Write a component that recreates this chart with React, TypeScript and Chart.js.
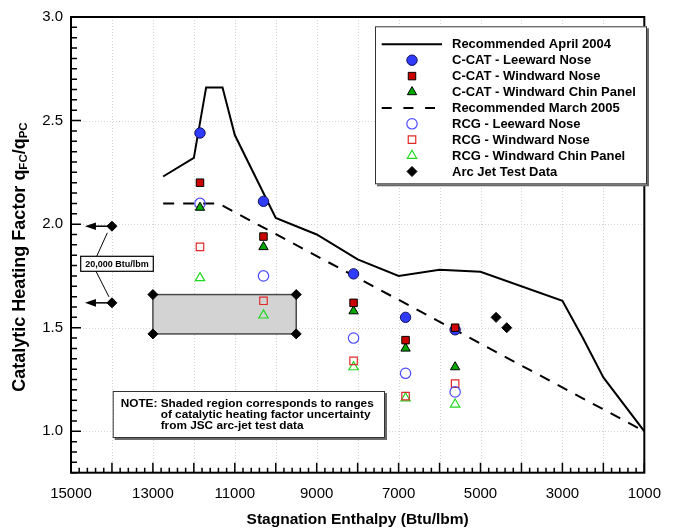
import React, { useEffect, useRef } from 'react';
import { Chart, registerables } from 'chart.js';

Chart.register(...registerables);

// ---- data ----
const enthalpyTicks = [15000, 14000, 13000, 12000, 11000, 10000, 9000, 8000, 7000, 6000, 5000, 4000, 3000, 2000, 1000];
const factorTicks = [1.0, 1.5, 2.0, 2.5, 3.0];

const april2004Enthalpy = [12750, 12000, 11700, 11300, 11000, 10000, 9000, 8000, 7000, 6000, 5000, 3000, 2500, 2000, 1000];
const april2004Factor = [2.23, 2.32, 2.66, 2.66, 2.43, 2.03, 1.95, 1.83, 1.75, 1.78, 1.77, 1.63, 1.45, 1.26, 1.0];

const march2005Enthalpy = [12750, 11400, 1000];
const march2005Factor = [2.1, 2.1, 1.0];

const testEnthalpy = [11850, 10300, 8100, 6830, 5620];
const ccatLeewardNose = [2.44, 2.11, 1.76, 1.55, 1.49];
const ccatWindwardNose = [2.2, 1.94, 1.62, 1.44, 1.5];
const ccatWindwardChin = [2.08, 1.89, 1.58, 1.4, 1.31];
const rcgLeewardNose = [2.1, 1.75, 1.45, 1.28, 1.19];
const rcgWindwardNose = [1.89, 1.63, 1.34, 1.17, 1.23];
const rcgWindwardChin = [1.74, 1.56, 1.31, 1.16, 1.13];

const arcJetEnthalpy = [4620, 4360];
const arcJetFactor = [1.55, 1.5];

// uncertainty band from JSC arc-jet data
const bandEnthalpy = [13000, 9500];
const bandFactor = [1.47, 1.66];

// 20,000 Btu/lbm reference points (off scale, arrows point left)
const refEnthalpy = 14000;
const refArrowTip = 14660;
const refFactor = [1.99, 1.62];

const noteLines = [
  ['NOTE: ', 'Shaded region corresponds to ranges'],
  ['', 'of catalytic heating factor uncertainty'],
  ['', 'from JSC arc-jet test data'],
];

const FONT = "Arial, 'Liberation Sans', Helvetica, sans-serif";

const pts = (xs: number[], ys: number[]) => xs.map((x, i) => ({ x, y: ys[i] }));

type Marker = { style: string; fill: string; stroke: string; r: number; width: number };

const mCcatLee: Marker = { style: 'circle', fill: '#2f3cff', stroke: '#10105a', r: 5.2, width: 1 };
const mCcatWin: Marker = { style: 'rect', fill: '#cc0000', stroke: '#000000', r: 5.3, width: 1 };
const mCcatChin: Marker = { style: 'triangle', fill: '#00a800', stroke: '#000000', r: 5.4, width: 1 };
const mRcgLee: Marker = { style: 'circle', fill: 'rgba(0,0,0,0)', stroke: '#4b4bff', r: 5.2, width: 1.2 };
const mRcgWin: Marker = { style: 'rect', fill: 'rgba(0,0,0,0)', stroke: '#e02a2a', r: 5.3, width: 1.2 };
const mRcgChin: Marker = { style: 'triangle', fill: 'rgba(0,0,0,0)', stroke: '#1fd81f', r: 5.4, width: 1.2 };
const mArc: Marker = { style: 'rectRot', fill: '#000000', stroke: '#000000', r: 5, width: 1 };

const scatterSet = (label: string, data: { x: number; y: number }[], m: Marker, order: number) => ({
  type: 'scatter' as const,
  label,
  data,
  order,
  showLine: false,
  pointStyle: m.style,
  pointRadius: m.r,
  pointBackgroundColor: m.fill,
  pointBorderColor: m.stroke,
  pointBorderWidth: m.width,
});

type LegendRow = { label: string; line?: 'solid' | 'dash'; marker?: Marker };
const legendRows: LegendRow[] = [
  { label: 'Recommended April 2004', line: 'solid' },
  { label: 'C-CAT - Leeward Nose', marker: mCcatLee },
  { label: 'C-CAT - Windward Nose', marker: mCcatWin },
  { label: 'C-CAT - Windward Chin Panel', marker: mCcatChin },
  { label: 'Recommended March 2005', line: 'dash' },
  { label: 'RCG - Leeward Nose', marker: mRcgLee },
  { label: 'RCG - Windward Nose', marker: mRcgWin },
  { label: 'RCG - Windward Chin Panel', marker: mRcgChin },
  { label: 'Arc Jet Test Data', marker: mArc },
];

function drawMarker(ctx: CanvasRenderingContext2D, m: Marker, x: number, y: number) {
  ctx.save();
  ctx.beginPath();
  const r = m.r;
  if (m.style === 'circle') {
    ctx.arc(x, y, r, 0, Math.PI * 2);
  } else if (m.style === 'rect') {
    const s = Math.SQRT1_2 * r;
    ctx.rect(x - s, y - s, 2 * s, 2 * s);
  } else if (m.style === 'triangle') {
    for (let k = 0; k < 3; k++) {
      const a = (k * 2 * Math.PI) / 3;
      const px = x + Math.sin(a) * r;
      const py = y - Math.cos(a) * r;
      if (k === 0) ctx.moveTo(px, py);
      else ctx.lineTo(px, py);
    }
    ctx.closePath();
  } else {
    ctx.moveTo(x, y - r);
    ctx.lineTo(x + r, y);
    ctx.lineTo(x, y + r);
    ctx.lineTo(x - r, y);
    ctx.closePath();
  }
  ctx.fillStyle = m.fill;
  ctx.fill();
  ctx.lineWidth = m.width;
  ctx.strokeStyle = m.stroke;
  ctx.stroke();
  ctx.restore();
}

const decorations = {
  id: 'decorations',
  beforeDatasetsDraw(chart: any) {
    const { ctx, chartArea: a, scales } = chart;
    const xs = scales.x;
    const ys = scales.y;
    ctx.save();
    // dotted grid
    ctx.strokeStyle = '#d4d4d4';
    ctx.lineWidth = 1;
    ctx.setLineDash([1, 2]);
    enthalpyTicks.forEach((v) => {
      const px = Math.round(xs.getPixelForValue(v)) + 0.5;
      ctx.beginPath();
      ctx.moveTo(px, a.top);
      ctx.lineTo(px, a.bottom);
      ctx.stroke();
    });
    [1.0, 1.5, 2.0, 2.5].forEach((v) => {
      const py = Math.round(ys.getPixelForValue(v)) + 0.5;
      ctx.beginPath();
      ctx.moveTo(a.left, py);
      ctx.lineTo(a.right, py);
      ctx.stroke();
    });
    ctx.setLineDash([]);

    // shaded uncertainty band
    const bx0 = xs.getPixelForValue(bandEnthalpy[0]);
    const bx1 = xs.getPixelForValue(bandEnthalpy[1]);
    const by0 = ys.getPixelForValue(bandFactor[1]);
    const by1 = ys.getPixelForValue(bandFactor[0]);
    ctx.fillStyle = '#d3d3d3';
    ctx.fillRect(bx0, by0, bx1 - bx0, by1 - by0);
    ctx.strokeStyle = '#4a4a4a';
    ctx.lineWidth = 1.5;
    ctx.strokeRect(bx0, by0, bx1 - bx0, by1 - by0);

    // arrows to the off-scale reference points
    ctx.fillStyle = '#000';
    ctx.strokeStyle = '#000';
    refFactor.forEach((f) => {
      const x0 = xs.getPixelForValue(refEnthalpy);
      const xt = xs.getPixelForValue(refArrowTip);
      const y = ys.getPixelForValue(f);
      ctx.lineWidth = 1.5;
      ctx.beginPath();
      ctx.moveTo(x0, y);
      ctx.lineTo(xt + 10, y);
      ctx.stroke();
      ctx.beginPath();
      ctx.moveTo(xt, y);
      ctx.lineTo(xt + 11, y - 3.8);
      ctx.lineTo(xt + 11, y + 3.8);
      ctx.closePath();
      ctx.fill();
    });

    // label box with connectors
    const dTop = { x: xs.getPixelForValue(refEnthalpy), y: ys.getPixelForValue(refFactor[0]) };
    const dBot = { x: xs.getPixelForValue(refEnthalpy), y: ys.getPixelForValue(refFactor[1]) };
    const lbx = a.left + 9.7;
    const lby = a.top + 239.3;
    const lbw = 72.6;
    const lbh = 15;
    ctx.lineWidth = 1;
    ctx.beginPath();
    ctx.moveTo(lbx + 16, lby);
    ctx.lineTo(dTop.x - 4.6, dTop.y + 6.6);
    ctx.moveTo(lbx + 15.3, lby + lbh);
    ctx.lineTo(dBot.x - 3, dBot.y - 6);
    ctx.stroke();
    ctx.fillStyle = '#fff';
    ctx.fillRect(lbx, lby, lbw, lbh);
    ctx.strokeStyle = '#000';
    ctx.lineWidth = 1.2;
    ctx.strokeRect(lbx, lby, lbw, lbh);
    ctx.fillStyle = '#000';
    ctx.font = `bold 9px ${FONT}`;
    ctx.textAlign = 'center';
    ctx.textBaseline = 'middle';
    ctx.fillText('20,000 Btu/lbm', lbx + lbw / 2, lby + lbh / 2 + 0.5);
    ctx.restore();
  },
  afterDatasetsDraw(chart: any) {
    const { ctx, chartArea: a, scales } = chart;
    const xs = scales.x;
    const ys = scales.y;
    ctx.save();

    // frame
    ctx.strokeStyle = '#000';
    ctx.lineWidth = 2;
    ctx.strokeRect(a.left, a.top, a.right - a.left, a.bottom - a.top);

    // inward ticks: x every 200 (major 1000), y every 0.05 (major 0.5)
    ctx.lineWidth = 1.5;
    ctx.beginPath();
    for (let v = 1000; v <= 15000; v += 200) {
      const px = xs.getPixelForValue(v);
      const len = v % 1000 === 0 ? 10 : 5;
      ctx.moveTo(px, a.bottom);
      ctx.lineTo(px, a.bottom - len);
    }
    for (let k = 16; k <= 60; k++) {
      const v = k * 0.05;
      const py = ys.getPixelForValue(v);
      const len = k % 10 === 0 ? 10 : 6;
      ctx.moveTo(a.left, py);
      ctx.lineTo(a.left + len, py);
    }
    ctx.stroke();

    // legend
    const lx = a.left + 304;
    const ly = a.top + 9.3;
    const lw = 272;
    const lh = 158;
    ctx.fillStyle = '#6a6a6a';
    ctx.fillRect(lx + 2, ly + 2, lw, lh);
    ctx.fillStyle = '#fff';
    ctx.fillRect(lx, ly, lw, lh);
    ctx.strokeStyle = '#333';
    ctx.lineWidth = 1;
    ctx.strokeRect(lx + 0.5, ly + 0.5, lw - 1, lh - 1);
    ctx.font = `bold 13px ${FONT}`;
    ctx.textAlign = 'left';
    ctx.textBaseline = 'middle';
    legendRows.forEach((row, i) => {
      const y = ly + 18 + i * 15.9;
      if (row.line) {
        ctx.strokeStyle = '#000';
        ctx.lineWidth = 2;
        ctx.setLineDash(row.line === 'dash' ? [10, 11.7] : []);
        ctx.beginPath();
        ctx.moveTo(lx + 6.7, y);
        ctx.lineTo(lx + (row.line === 'dash' ? 60 : 67), y);
        ctx.stroke();
        ctx.setLineDash([]);
      } else if (row.marker) {
        drawMarker(ctx, row.marker, lx + 37, y);
      }
      ctx.fillStyle = '#000';
      ctx.fillText(row.label, lx + 77, y + 0.5);
    });

    // note box
    const nx = a.left + 41.7;
    const ny = a.top + 374;
    const nw = 272.3;
    const nh = 47;
    ctx.fillStyle = '#6a6a6a';
    ctx.fillRect(nx + 2, ny + 2, nw, nh);
    ctx.fillStyle = '#fff';
    ctx.fillRect(nx, ny, nw, nh);
    ctx.strokeStyle = '#333';
    ctx.lineWidth = 1;
    ctx.strokeRect(nx + 0.5, ny + 0.5, nw - 1, nh - 1);
    ctx.font = `bold 11.8px ${FONT}`;
    ctx.fillStyle = '#000';
    const indent = ctx.measureText('NOTE: ').width;
    noteLines.forEach(([head, body], i) => {
      const y = ny + 12.7 + i * 10.8;
      if (head) ctx.fillText(head, nx + 8, y);
      ctx.fillText(body, nx + 8 + indent, y);
    });

    // axis titles
    ctx.font = `bold 15.5px ${FONT}`;
    ctx.textAlign = 'center';
    ctx.fillText('Stagnation Enthalpy (Btu/lbm)', (a.left + a.right) / 2, 520);

    ctx.translate(20, 257);
    ctx.rotate(-Math.PI / 2);
    const big = `bold 18px ${FONT}`;
    const small = `bold 11.5px ${FONT}`;
    const parts: [string, string, number][] = [
      ['Catalytic Heating Factor q', big, 0],
      ['FC', small, 4],
      ['/q', big, 0],
      ['PC', small, 4],
    ];
    let total = 0;
    parts.forEach(([t, f]) => {
      ctx.font = f;
      total += ctx.measureText(t).width;
    });
    let cx = -total / 2;
    ctx.textAlign = 'left';
    parts.forEach(([t, f, dy]) => {
      ctx.font = f;
      ctx.fillText(t, cx, dy);
      cx += ctx.measureText(t).width;
    });
    ctx.restore();
  },
};

export default function App() {
  const canvasRef = useRef<HTMLCanvasElement>(null);

  useEffect(() => {
    const canvas = canvasRef.current;
    if (!canvas) return;
    const chart = new Chart(canvas, {
      type: 'scatter',
      data: {
        datasets: [
          scatterSet('Arc Jet Test Data', pts(arcJetEnthalpy, arcJetFactor), mArc, 1),
          scatterSet('C-CAT - Windward Nose', pts(testEnthalpy, ccatWindwardNose), mCcatWin, 2),
          scatterSet('C-CAT - Windward Chin Panel', pts(testEnthalpy, ccatWindwardChin), mCcatChin, 3),
          scatterSet('C-CAT - Leeward Nose', pts(testEnthalpy, ccatLeewardNose), mCcatLee, 4),
          scatterSet('RCG - Leeward Nose', pts(testEnthalpy, rcgLeewardNose), mRcgLee, 5),
          scatterSet('RCG - Windward Nose', pts(testEnthalpy, rcgWindwardNose), mRcgWin, 6),
          scatterSet('RCG - Windward Chin Panel', pts(testEnthalpy, rcgWindwardChin), mRcgChin, 7),
          scatterSet(
            'Band corners',
            [
              { x: bandEnthalpy[0], y: bandFactor[1] },
              { x: bandEnthalpy[1], y: bandFactor[1] },
              { x: bandEnthalpy[0], y: bandFactor[0] },
              { x: bandEnthalpy[1], y: bandFactor[0] },
            ],
            mArc,
            8
          ),
          scatterSet('20,000 Btu/lbm', refFactor.map((y) => ({ x: refEnthalpy, y })), mArc, 8),
          {
            type: 'line' as const,
            label: 'Recommended April 2004',
            data: pts(april2004Enthalpy, april2004Factor),
            order: 10,
            borderColor: '#000',
            borderWidth: 2,
            pointRadius: 0,
            tension: 0,
            fill: false,
          },
          {
            type: 'line' as const,
            label: 'Recommended March 2005',
            data: pts(march2005Enthalpy, march2005Factor),
            order: 11,
            borderColor: '#000',
            borderWidth: 2,
            borderDash: [11, 9],
            pointRadius: 0,
            tension: 0,
            fill: false,
          },
        ] as any,
      },
      options: {
        animation: false,
        responsive: false,
        devicePixelRatio: 1,
        events: [],
        layout: { padding: { top: 16.7, right: 17.3, left: 0, bottom: 0 } },
        plugins: { legend: { display: false }, tooltip: { enabled: false }, title: { display: false } },
        scales: {
          x: {
            type: 'linear',
            reverse: true,
            min: 1000,
            max: 15000,
            grid: { display: false, drawTicks: false },
            border: { display: false },
            afterBuildTicks: (s: any) => {
              s.ticks = enthalpyTicks.map((value) => ({ value }));
            },
            afterFit: (s: any) => {
              s.height = 529 - 472.7;
            },
            ticks: {
              autoSkip: false,
              maxRotation: 0,
              padding: 12,
              color: '#000',
              font: { family: FONT, size: 15 },
              callback: (v: any) => (Number(v) % 2000 === 1000 ? String(v) : ''),
            },
          },
          y: {
            type: 'linear',
            min: 0.8,
            max: 3.0,
            grid: { display: false, drawTicks: false },
            border: { display: false },
            afterBuildTicks: (s: any) => {
              s.ticks = factorTicks.map((value) => ({ value }));
            },
            afterFit: (s: any) => {
              s.width = 71;
            },
            ticks: {
              padding: 8,
              color: '#000',
              font: { family: FONT, size: 15 },
              callback: (v: any) => Number(v).toFixed(1),
            },
          },
        },
      },
      plugins: [decorations],
    });
    return () => chart.destroy();
  }, []);

  return (
    <div style={{ position: 'fixed', left: 0, top: 0, width: 673, height: 529, background: '#fff' }}>
      <canvas ref={canvasRef} width={673} height={529} style={{ display: 'block' }} />
    </div>
  );
}
